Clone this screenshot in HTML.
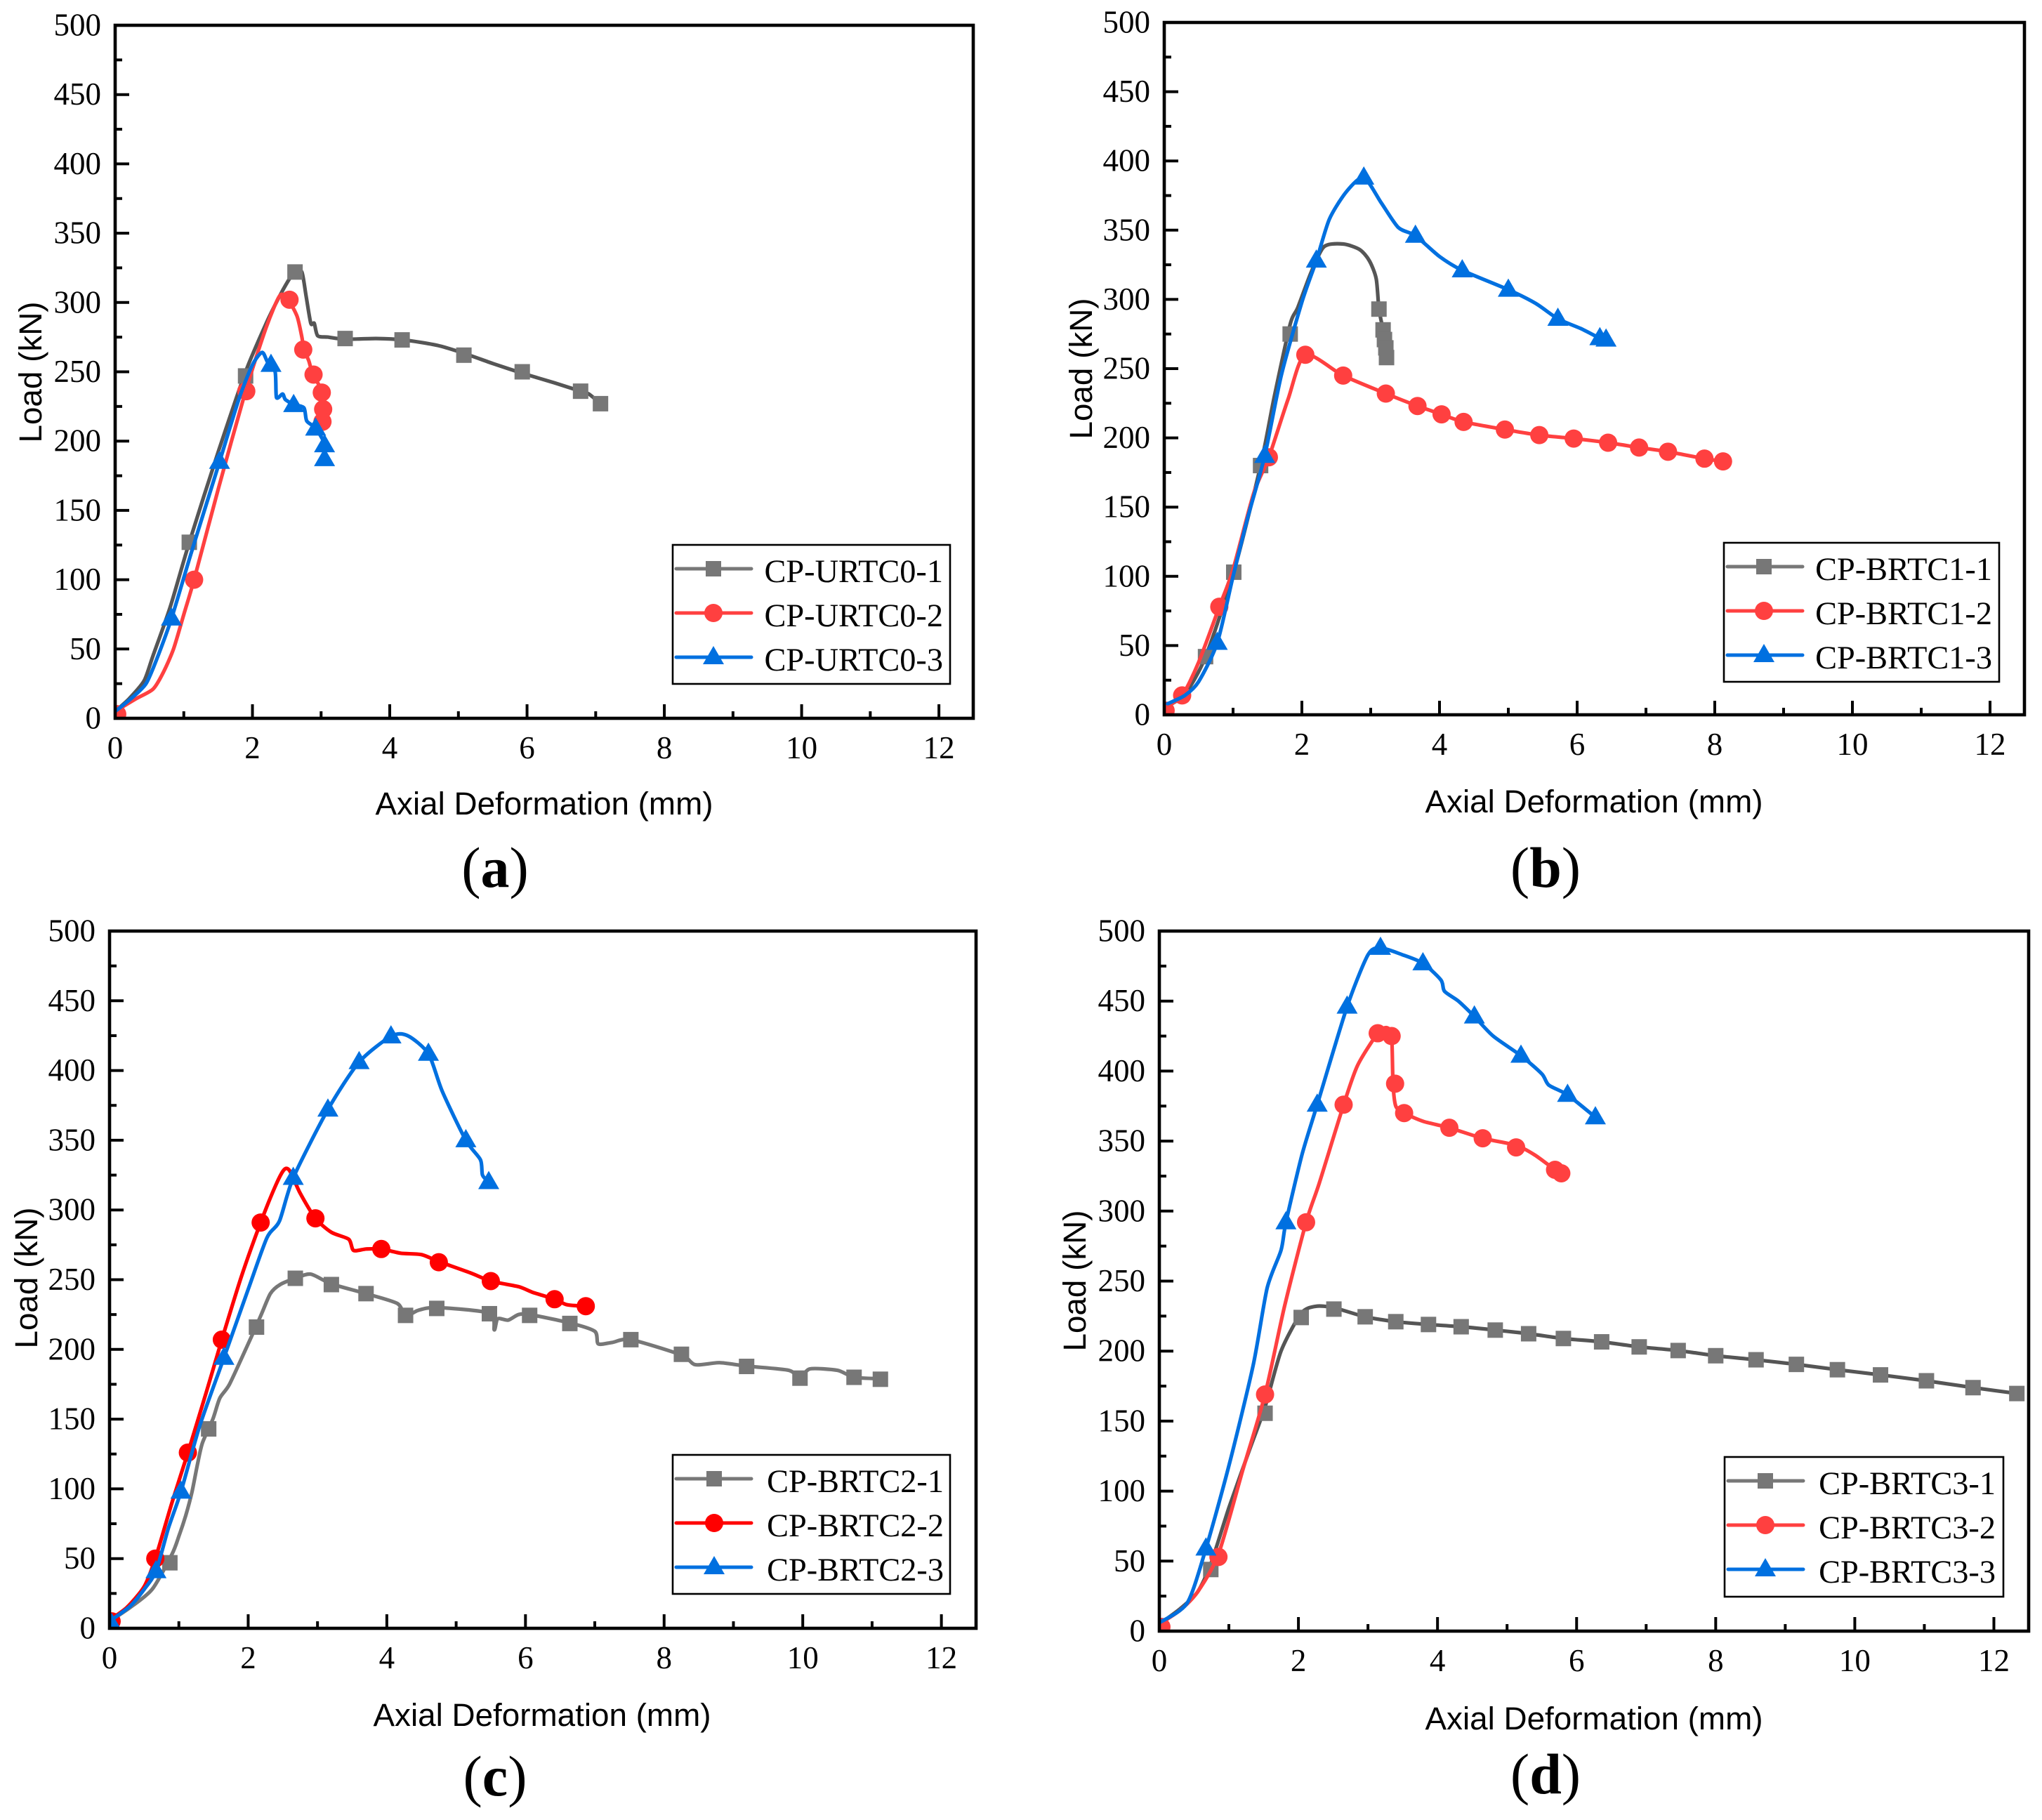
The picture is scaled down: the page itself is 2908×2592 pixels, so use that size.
<!DOCTYPE html>
<html lang="en">
<head>
<meta charset="utf-8">
<title>Load versus axial deformation curves</title>
<style>
html,body{margin:0;padding:0;background:#fff;}
svg{display:block;}
.tick{font-family:"Liberation Serif",serif;font-size:45px;fill:#000;}
.title{font-family:"Liberation Sans",sans-serif;font-size:45.8px;fill:#000;text-anchor:middle;}
.lg{font-family:"Liberation Serif",serif;font-size:46.3px;fill:#000;text-anchor:end;}
.pl{font-family:"Liberation Serif",serif;font-size:82px;fill:#000;text-anchor:middle;}
.pl .b{font-weight:bold;}
.box{fill:#fff;stroke:#000;stroke-width:2.6;}
.lgl{stroke-width:5;stroke-linecap:round;}
</style>
</head>
<body>
<svg id="fig" xmlns="http://www.w3.org/2000/svg" width="2908" height="2592" viewBox="0 0 2908 2592">
<rect x="0" y="0" width="2908" height="2592" fill="#fff"/>
<g id="plots"></g>

<g>
<text class="title" x="775" y="1160">Axial Deformation (mm)</text>
<text class="title" transform="translate(59,530) rotate(-90)">Load (kN)</text>
<text class="pl" x="705" y="1263">(<tspan class="b">a</tspan>)</text>
</g>
<g transform="translate(958,776)">
<rect class="box" x="0" y="0" width="395" height="198"/>
<line class="lgl" x1="5" x2="112" y1="34" y2="34" stroke="#777"/>
<rect x="47" y="23" width="22" height="22" fill="#777"/>
<text class="lg" x="385" y="53">CP-URTC0-1</text>
<line class="lgl" x1="5" x2="112" y1="97" y2="97" stroke="#FF4040"/>
<circle cx="58" cy="97" r="13" fill="#FF4040"/>
<text class="lg" x="385" y="116">CP-URTC0-2</text>
<line class="lgl" x1="5" x2="112" y1="160" y2="160" stroke="#0070E0"/>
<polygon points="58,144 73,170 43,170" fill="#0070E0"/>
<text class="lg" x="385" y="179">CP-URTC0-3</text>
</g>

<g>
<text class="title" x="2270" y="1157">Axial Deformation (mm)</text>
<text class="title" transform="translate(1555,525) rotate(-90)">Load (kN)</text>
<text class="pl" x="2201" y="1263">(<tspan class="b">b</tspan>)</text>
</g>
<g transform="translate(2455,773)">
<rect class="box" x="0" y="0" width="392" height="198"/>
<line class="lgl" x1="5" x2="112" y1="34" y2="34" stroke="#777"/>
<rect x="46" y="23" width="22" height="22" fill="#777"/>
<text class="lg" x="382" y="53">CP-BRTC1-1</text>
<line class="lgl" x1="5" x2="112" y1="97" y2="97" stroke="#FF4040"/>
<circle cx="57" cy="97" r="13" fill="#FF4040"/>
<text class="lg" x="382" y="116">CP-BRTC1-2</text>
<line class="lgl" x1="5" x2="112" y1="160" y2="160" stroke="#0070E0"/>
<polygon points="57,144 72,170 42,170" fill="#0070E0"/>
<text class="lg" x="382" y="179">CP-BRTC1-3</text>
</g>

<g>
<text class="title" x="772" y="2458">Axial Deformation (mm)</text>
<text class="title" transform="translate(53,1820) rotate(-90)">Load (kN)</text>
<text class="pl" x="705" y="2557">(<tspan class="b">c</tspan>)</text>
</g>
<g transform="translate(958,2072)">
<rect class="box" x="0" y="0" width="395" height="198"/>
<line class="lgl" x1="5" x2="112" y1="34" y2="34" stroke="#777"/>
<rect x="48" y="23" width="22" height="22" fill="#777"/>
<text class="lg" x="386" y="53">CP-BRTC2-1</text>
<line class="lgl" x1="5" x2="112" y1="97" y2="97" stroke="#FF0000"/>
<circle cx="59" cy="97" r="13" fill="#FF0000"/>
<text class="lg" x="386" y="116">CP-BRTC2-2</text>
<line class="lgl" x1="5" x2="112" y1="160" y2="160" stroke="#0070E0"/>
<polygon points="59,144 74,170 44,170" fill="#0070E0"/>
<text class="lg" x="386" y="179">CP-BRTC2-3</text>
</g>

<g>
<text class="title" x="2270" y="2463">Axial Deformation (mm)</text>
<text class="title" transform="translate(1546,1824) rotate(-90)">Load (kN)</text>
<text class="pl" x="2201" y="2554">(<tspan class="b">d</tspan>)</text>
</g>
<g transform="translate(2456,2075)">
<rect class="box" x="0" y="0" width="397" height="199"/>
<line class="lgl" x1="5" x2="112" y1="34" y2="34" stroke="#777"/>
<rect x="47" y="23" width="22" height="22" fill="#777"/>
<text class="lg" x="386" y="53">CP-BRTC3-1</text>
<line class="lgl" x1="5" x2="112" y1="97" y2="97" stroke="#FF4040"/>
<circle cx="58" cy="97" r="13" fill="#FF4040"/>
<text class="lg" x="386" y="116">CP-BRTC3-2</text>
<line class="lgl" x1="5" x2="112" y1="160" y2="160" stroke="#0070E0"/>
<polygon points="58,144 73,170 43,170" fill="#0070E0"/>
<text class="lg" x="386" y="179">CP-BRTC3-3</text>
</g>
</svg>

<script>
// Tick labels
const xTickLabels = [0, 2, 4, 6, 8, 10, 12];
const yTickLabels = [0, 50, 100, 150, 200, 250, 300, 350, 400, 450, 500];
const xMinorTicks = [1, 3, 5, 7, 9, 11];
const yMinorTicks = [25, 75, 125, 175, 225, 275, 325, 375, 425, 475];

// Panel (a) data: deformation (mm) and load (kN)
const a1X = [0, 0.2, 0.42, 0.55, 0.8, 1.08, 1.5, 1.9, 2.2, 2.4, 2.55, 2.62, 2.72, 2.78, 2.85, 2.9, 2.95, 3.1, 3.35, 3.8, 4.2, 4.7, 5.1, 5.5, 5.93, 6.4, 6.78, 6.9, 7.07];
const a1Y = [5, 14, 27, 45, 80, 127, 192, 250, 285, 305, 318, 322, 322, 305, 285, 285, 276, 275, 273.5, 274, 273, 269, 263, 256, 249, 242, 236, 234, 227];
const a1MarkX = [1.08, 1.9, 2.62, 3.35, 4.18, 5.08, 5.93, 6.78, 7.07];
const a1MarkY = [127, 247, 322, 274, 273, 262, 250, 236, 227];
const a2X = [0, 0.3, 0.55, 0.7, 0.85, 1.0, 1.15, 1.5, 1.9, 2.2, 2.4, 2.52, 2.65, 2.72, 2.75, 2.82, 2.88, 3.0, 3.02, 3.03, 3.02];
const a2Y = [5, 14, 21, 33, 50, 75, 100, 165, 236, 282, 305, 302, 290, 275, 266, 258, 248, 238, 234, 223, 214];
const a2MarkX = [0.03, 1.15, 1.91, 2.54, 2.74, 2.89, 3.01, 3.03, 3.02];
const a2MarkY = [3, 100, 236, 302, 266, 248, 235, 223, 214];
const a3X = [0, 0.25, 0.45, 0.6, 0.82, 1.1, 1.52, 1.8, 2.0, 2.14, 2.22, 2.33, 2.35, 2.44, 2.48, 2.6, 2.75, 2.79, 2.92, 3.05, 3.05];
const a3Y = [5, 15, 25, 42, 72, 118, 185, 230, 255, 264, 257, 250, 231.5, 234, 230, 226.4, 224, 214.6, 209.3, 198, 187];
const a3MarkX = [0.82, 1.52, 2.27, 2.6, 2.92, 3.05, 3.05];
const a3MarkY = [72, 185, 255, 226, 209, 197, 187];

// Panel (b) data
const b1X = [0, 0.3, 0.6, 1.01, 1.4, 1.6, 1.83, 1.94, 2.13, 2.32, 2.6, 2.84, 2.98, 3.08, 3.12, 3.18, 3.2, 3.22, 3.23];
const b1Y = [5, 15, 42, 103, 180, 230, 282, 294, 319, 338, 340, 336, 328, 315, 293, 278, 271, 265, 258];
const b1MarkX = [0.6, 1.01, 1.4, 1.83, 3.12, 3.18, 3.2, 3.22, 3.23];
const b1MarkY = [42, 103, 180, 275, 293, 278, 271, 265, 258];
const b2X = [0, 0.26, 0.5, 0.8, 1.0, 1.3, 1.52, 1.8, 2.05, 2.6, 3.22, 3.68, 4.03, 4.35, 4.95, 5.45, 5.95, 6.45, 6.9, 7.32, 7.85, 8.12];
const b2Y = [5, 14, 38, 78, 105, 160, 186, 228, 260, 245, 232, 223, 217, 211.5, 206, 202, 199.5, 196.5, 193, 190, 185, 183];
const b2MarkX = [0.02, 0.26, 0.8, 1.52, 2.05, 2.6, 3.22, 3.68, 4.03, 4.35, 4.95, 5.45, 5.95, 6.45, 6.9, 7.32, 7.85, 8.12];
const b2MarkY = [3, 14, 78, 186, 260, 245, 232, 223, 217, 211.5, 206, 202, 199.5, 196.5, 193, 190, 185, 183];
const b3X = [0.05, 0.3, 0.5, 0.77, 1.0, 1.2, 1.46, 1.7, 2.0, 2.21, 2.4, 2.65, 2.9, 3.15, 3.4, 3.65, 4.0, 4.33, 5.0, 5.4, 5.72, 6.05, 6.33, 6.42];
const b3Y = [8, 14, 24, 52, 100, 140, 187, 245, 298, 328, 358, 378, 388, 370, 352, 346, 331, 321, 307, 297, 286, 279, 272, 271];
const b3MarkX = [0.77, 1.46, 2.21, 2.9, 3.65, 4.33, 5.0, 5.72, 6.33, 6.42];
const b3MarkY = [52, 187, 328, 388, 346, 321, 307, 286, 272, 271];

// Panel (c) data
const c1X = [0, 0.3, 0.615, 0.9, 1.0, 1.1, 1.19, 1.27, 1.34, 1.49, 1.59, 1.73, 2.0, 2.18, 2.32, 2.46, 2.68, 2.9, 3.2, 3.7, 4.15, 4.27, 4.45, 4.72, 5.48, 5.55, 5.6, 5.75, 5.9, 6.06, 6.64, 7.0, 7.05, 7.25, 7.52, 8.25, 8.45, 8.8, 9.19, 9.8, 9.96, 10.1, 10.5, 10.74, 11.12];
const c1Y = [5, 15, 28, 53, 66, 81, 98, 118, 133, 150, 165, 175, 204, 224, 240, 246.5, 251, 254, 247, 240, 233, 224, 228, 230, 226, 214, 222, 221, 225, 225, 219, 213, 204, 205, 207, 196, 189, 190.5, 188, 185, 179, 186, 185, 180, 179];
const c1MarkX = [0.87, 1.43, 2.12, 2.68, 3.2, 3.7, 4.27, 4.72, 5.48, 6.06, 6.64, 7.52, 8.25, 9.19, 9.96, 10.74, 11.12];
const c1MarkY = [47, 143, 216, 251, 246.5, 240, 224.4, 229.4, 225.6, 224.4, 218.6, 207, 196.5, 187.8, 179.4, 180, 178.6];
const c2X = [0, 0.25, 0.5, 0.66, 0.9, 1.13, 1.4, 1.62, 1.9, 2.18, 2.4, 2.52, 2.6, 2.75, 2.97, 3.2, 3.45, 3.52, 3.7, 3.92, 4.2, 4.5, 4.75, 5.2, 5.5, 5.9, 6.1, 6.42, 6.6, 6.87];
const c2Y = [6, 15, 30, 50, 90, 126, 170, 207, 252, 291, 318, 329, 328, 312, 294, 284, 279, 271, 272, 272, 269, 268, 263, 255, 249, 245, 241, 236, 232, 231];
const c2MarkX = [0.03, 0.66, 1.13, 1.62, 2.18, 2.97, 3.92, 4.75, 5.5, 6.42, 6.87];
const c2MarkY = [5, 50, 126, 207, 291, 294, 272, 262.5, 249, 236, 231];
const c3X = [0, 0.3, 0.5, 0.67, 0.85, 1.03, 1.3, 1.65, 2.0, 2.27, 2.45, 2.65, 3.15, 3.6, 4.06, 4.3, 4.6, 4.8, 5.14, 5.35, 5.38, 5.47];
const c3Y = [5, 16, 28, 41, 72, 98, 145, 194, 243, 280, 292, 323, 372, 406, 424.5, 425, 412, 385, 350, 336, 325, 320];
const c3MarkX = [0.03, 0.67, 1.03, 1.65, 2.65, 3.15, 3.6, 4.06, 4.6, 5.14, 5.47];
const c3MarkY = [3, 41, 98, 194, 323, 372, 406, 424.5, 412, 350, 320];

// Panel (d) data
const d1X = [0, 0.3, 0.55, 0.74, 1.0, 1.3, 1.52, 1.75, 2.04, 2.25, 2.51, 2.96, 3.4, 3.87, 4.34, 4.83, 5.31, 5.81, 6.36, 6.9, 7.46, 8, 8.58, 9.16, 9.75, 10.37, 11.03, 11.7, 12.33];
const d1Y = [5, 16, 28, 48, 88, 130, 160, 200, 227, 232, 231, 224.5, 221, 219, 217.4, 215, 212.4, 209, 206.6, 203, 200.4, 196.7, 193.8, 190.5, 186.7, 183, 178.8, 173.9, 169.7];
const d1MarkX = [0.74, 1.52, 2.04, 2.51, 2.96, 3.4, 3.87, 4.34, 4.83, 5.31, 5.81, 6.36, 6.9, 7.46, 8, 8.58, 9.16, 9.75, 10.37, 11.03, 11.7, 12.33];
const d1MarkY = [44, 155.6, 224, 230, 224.5, 221, 219, 217.4, 215, 212.4, 209, 206.6, 203, 200.4, 196.7, 193.8, 190.5, 186.7, 183, 178.8, 173.9, 169.7];
const d2X = [0, 0.3, 0.55, 0.85, 1.2, 1.52, 1.8, 2.11, 2.3, 2.65, 2.85, 3.14, 3.27, 3.34, 3.36, 3.4, 3.52, 3.8, 4.17, 4.65, 5.13, 5.4, 5.69, 5.78];
const d2Y = [5, 15, 28, 55, 115, 169, 232, 292, 320, 376, 404, 427, 431, 425, 391, 375, 370, 364, 359.5, 352, 347, 340, 329.5, 327];
const d2MarkX = [0.03, 0.85, 1.52, 2.11, 2.65, 3.14, 3.34, 3.39, 3.52, 4.17, 4.65, 5.13, 5.69, 5.78];
const d2MarkY = [3, 53, 169, 292, 376, 427, 425, 391, 370, 359.5, 352, 345.5, 329.5, 327];
const d3X = [0, 0.4, 0.67, 1.0, 1.35, 1.55, 1.75, 1.82, 2.05, 2.27, 2.7, 3.0, 3.18, 3.5, 3.79, 4.05, 4.1, 4.3, 4.53, 4.8, 5.2, 5.5, 5.6, 5.87, 6.27];
const d3Y = [6, 20, 59, 118, 190, 245, 272, 292, 340, 376, 446, 483, 488, 483, 477, 465, 457, 450, 439, 425, 411, 398, 390, 383, 367];
const d3MarkX = [0.67, 1.82, 2.27, 2.7, 3.18, 3.79, 4.53, 5.2, 5.87, 6.27];
const d3MarkY = [59, 292, 376, 446, 488, 477, 439, 411, 383, 367];

const GRAY_DARK = '#555555', GRAY = '#777777', RED = '#FF4040', PURE_RED = '#FF0000', BLUE = '#0070E0';
const panels = [
  { id: 'a', left: 164, right: 1386, top: 36, bottom: 1023, series: [
    { name: 'CP-URTC0-1', x: a1X, y: a1Y, mx: a1MarkX, my: a1MarkY, line: GRAY_DARK, fill: GRAY, shape: 'square' },
    { name: 'CP-URTC0-2', x: a2X, y: a2Y, mx: a2MarkX, my: a2MarkY, line: RED, fill: RED, shape: 'circle' },
    { name: 'CP-URTC0-3', x: a3X, y: a3Y, mx: a3MarkX, my: a3MarkY, line: BLUE, fill: BLUE, shape: 'triangle' } ] },
  { id: 'b', left: 1658, right: 2883, top: 32, bottom: 1018, series: [
    { name: 'CP-BRTC1-1', x: b1X, y: b1Y, mx: b1MarkX, my: b1MarkY, line: GRAY_DARK, fill: GRAY, shape: 'square' },
    { name: 'CP-BRTC1-2', x: b2X, y: b2Y, mx: b2MarkX, my: b2MarkY, line: RED, fill: RED, shape: 'circle' },
    { name: 'CP-BRTC1-3', x: b3X, y: b3Y, mx: b3MarkX, my: b3MarkY, line: BLUE, fill: BLUE, shape: 'triangle' } ] },
  { id: 'c', left: 156, right: 1390, top: 1326, bottom: 2319, series: [
    { name: 'CP-BRTC2-1', x: c1X, y: c1Y, mx: c1MarkX, my: c1MarkY, line: GRAY, fill: GRAY, shape: 'square' },
    { name: 'CP-BRTC2-2', x: c2X, y: c2Y, mx: c2MarkX, my: c2MarkY, line: PURE_RED, fill: PURE_RED, shape: 'circle' },
    { name: 'CP-BRTC2-3', x: c3X, y: c3Y, mx: c3MarkX, my: c3MarkY, line: BLUE, fill: BLUE, shape: 'triangle' } ] },
  { id: 'd', left: 1651, right: 2889, top: 1326, bottom: 2323, series: [
    { name: 'CP-BRTC3-1', x: d1X, y: d1Y, mx: d1MarkX, my: d1MarkY, line: GRAY_DARK, fill: GRAY, shape: 'square' },
    { name: 'CP-BRTC3-2', x: d2X, y: d2Y, mx: d2MarkX, my: d2MarkY, line: RED, fill: RED, shape: 'circle' },
    { name: 'CP-BRTC3-3', x: d3X, y: d3Y, mx: d3MarkX, my: d3MarkY, line: BLUE, fill: BLUE, shape: 'triangle' } ] }
];

const XMAX = 12.5, YMAX = 500;
const NS = 'http://www.w3.org/2000/svg';
const root = document.getElementById('plots');

function make(tag, attrs, parent) {
  const el = document.createElementNS(NS, tag);
  for (const k in attrs) el.setAttribute(k, attrs[k]);
  parent.appendChild(el);
  return el;
}

function drawTick(parent, x1, y1, x2, y2, width) {
  const el = make('line', { x1: x1, y1: y1, x2: x2, y2: y2, stroke: '#000', 'stroke-width': width }, parent);
  
  
}

// Smooth path through the points (gentle Catmull-Rom, low tension to limit overshoot)
function smoothPath(pts) {
  const k = 1 / 8;
  let d = 'M' + pts[0][0].toFixed(1) + ' ' + pts[0][1].toFixed(1);
  for (let i = 0; i < pts.length - 1; i++) {
    const p0 = pts[Math.max(i - 1, 0)], p1 = pts[i], p2 = pts[i + 1], p3 = pts[Math.min(i + 2, pts.length - 1)];
    const c1x = p1[0] + (p2[0] - p0[0]) * k, c1y = p1[1] + (p2[1] - p0[1]) * k;
    const c2x = p2[0] - (p3[0] - p1[0]) * k, c2y = p2[1] - (p3[1] - p1[1]) * k;
    d += 'C' + c1x.toFixed(1) + ' ' + c1y.toFixed(1) + ' ' + c2x.toFixed(1) + ' ' + c2y.toFixed(1) + ' ' + p2[0].toFixed(1) + ' ' + p2[1].toFixed(1);
  }
  return d;
}

function drawPanel(p) {
  const sx = v => p.left + (p.right - p.left) * v / XMAX;
  const sy = v => p.bottom - (p.bottom - p.top) * v / YMAX;

  const g = make('g', {}, root);
  
  

  const defs = make('defs', {}, g);
  const clip = make('clipPath', { id: 'clip-' + p.id }, defs);
  make('rect', { x: p.left, y: p.top, width: p.right - p.left, height: p.bottom - p.top }, clip);

  const marks = make('g', { 'clip-path': 'url(#clip-' + p.id + ')' }, g);
  
  

  p.series.forEach(s => {
    const sg = make('g', {}, marks);
    
    
    const pts = s.x.map((v, i) => [sx(v), sy(s.y[i])]);
    const line = make('path', { d: smoothPath(pts), fill: 'none', stroke: s.line, 'stroke-width': 5.2, 'stroke-linejoin': 'round', 'stroke-linecap': 'round' }, sg);
    
    
    s.mx.forEach((v, i) => {
      const cx = sx(v), cy = sy(s.my[i]);
      let m;
      if (s.shape === 'square') {
        m = make('rect', { x: cx - 11, y: cy - 11, width: 22, height: 22, fill: s.fill }, sg);
      } else if (s.shape === 'circle') {
        m = make('circle', { cx: cx, cy: cy, r: 13, fill: s.fill }, sg);
      } else {
        m = make('polygon', { points: cx + ',' + (cy - 16) + ' ' + (cx + 15) + ',' + (cy + 10) + ' ' + (cx - 15) + ',' + (cy + 10), fill: s.fill }, sg);
      }
      
      
    });
  });

  const frame = make('rect', { x: p.left, y: p.top, width: p.right - p.left, height: p.bottom - p.top, fill: 'none', stroke: '#000', 'stroke-width': 4.6 }, g);
  
  

  xTickLabels.forEach(v => {
    drawTick(g, sx(v), p.bottom, sx(v), p.bottom - 20, 4);
    const t = make('text', { x: sx(v), y: p.bottom + 57, 'text-anchor': 'middle', class: 'tick' }, g);
    
    
    t.textContent = v;
  });
  xMinorTicks.forEach(v => drawTick(g, sx(v), p.bottom, sx(v), p.bottom - 10, 4));
  yTickLabels.forEach(v => {
    drawTick(g, p.left, sy(v), p.left + 20, sy(v), 4);
    const t = make('text', { x: p.left - 20, y: sy(v) + 14.5, 'text-anchor': 'end', class: 'tick' }, g);
    
    
    t.textContent = v;
  });
  yMinorTicks.forEach(v => drawTick(g, p.left, sy(v), p.left + 10, sy(v), 4));
}

panels.forEach(drawPanel);
</script>
</body>
</html>
